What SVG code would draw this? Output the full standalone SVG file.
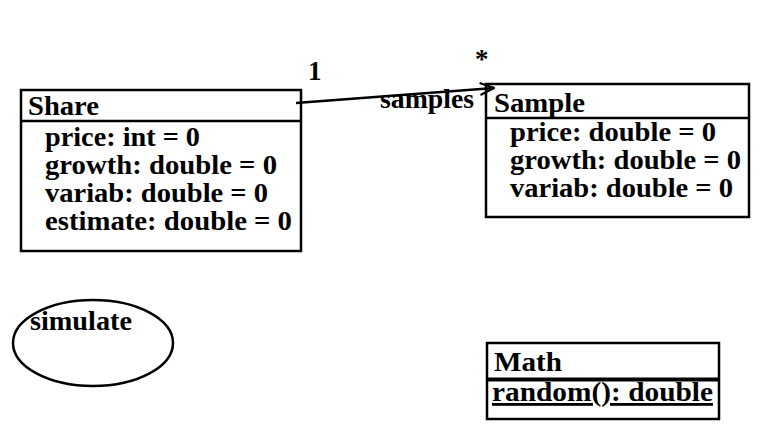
<svg xmlns="http://www.w3.org/2000/svg" width="767" height="447" viewBox="0 0 767 447">
<style>
.box{fill:#fff;stroke:#000;stroke-width:2.5}
.sep{stroke:#000;stroke-width:2.5}
text{font-family:'Liberation Serif','DejaVu Serif','Times New Roman',serif;font-weight:bold;font-size:28px;fill:#000}
.lbl{font-size:27px}
</style>
<defs>
<marker id="open" viewBox="0 0 16 16" refX="15" refY="8" markerWidth="16" markerHeight="16" markerUnits="userSpaceOnUse" orient="auto">
<path d="M1,2 L15,8 L1,14" fill="none" stroke="#000" stroke-width="2.2"/>
</marker>
</defs>
<rect width="767" height="447" fill="#fff"/>
<g id="Share">
<rect class="box" x="21" y="90" width="280" height="161"/>
<line class="sep" x1="21" y1="121" x2="301" y2="121"/>
<text x="28" y="115" textLength="71" lengthAdjust="spacingAndGlyphs">Share</text>
<text x="45" y="146" textLength="155" lengthAdjust="spacingAndGlyphs">price: int = 0</text>
<text x="45" y="174" textLength="232" lengthAdjust="spacingAndGlyphs">growth: double = 0</text>
<text x="45" y="202" textLength="223" lengthAdjust="spacingAndGlyphs">variab: double = 0</text>
<text x="45" y="230" textLength="247" lengthAdjust="spacingAndGlyphs">estimate: double = 0</text>
</g>
<g id="Sample">
<rect class="box" x="486" y="84" width="263" height="133"/>
<line class="sep" x1="486" y1="118" x2="749" y2="118"/>
<text x="494" y="112" textLength="91" lengthAdjust="spacingAndGlyphs">Sample</text>
<text x="510" y="141" textLength="206" lengthAdjust="spacingAndGlyphs">price: double = 0</text>
<text x="510" y="169" textLength="231" lengthAdjust="spacingAndGlyphs">growth: double = 0</text>
<text x="510" y="197" textLength="223" lengthAdjust="spacingAndGlyphs">variab: double = 0</text>
</g>
<g id="simulate">
<ellipse cx="93" cy="343" rx="80" ry="43" fill="#fff" stroke="#000" stroke-width="2.5"/>
<text x="30" y="330" textLength="102" lengthAdjust="spacingAndGlyphs">simulate</text>
</g>
<g id="Math">
<rect class="box" x="487" y="343" width="232" height="76"/>
<line x1="487" y1="379.5" x2="719" y2="379.5" stroke="#000" stroke-width="4"/>
<text x="494" y="371" textLength="68" lengthAdjust="spacingAndGlyphs">Math</text>
<text x="492" y="401" textLength="221" lengthAdjust="spacingAndGlyphs" text-decoration="underline">random(): double</text>
</g>
<g id="connectors">
<line x1="296" y1="103" x2="494" y2="88" stroke="#000" stroke-width="2.5" marker-end="url(#open)"/>
<text class="lbl" x="308" y="80">1</text>
<text class="lbl" x="475" y="68">*</text>
<text class="lbl" x="380" y="108" textLength="94" lengthAdjust="spacingAndGlyphs">samples</text>
</g>
</svg>
